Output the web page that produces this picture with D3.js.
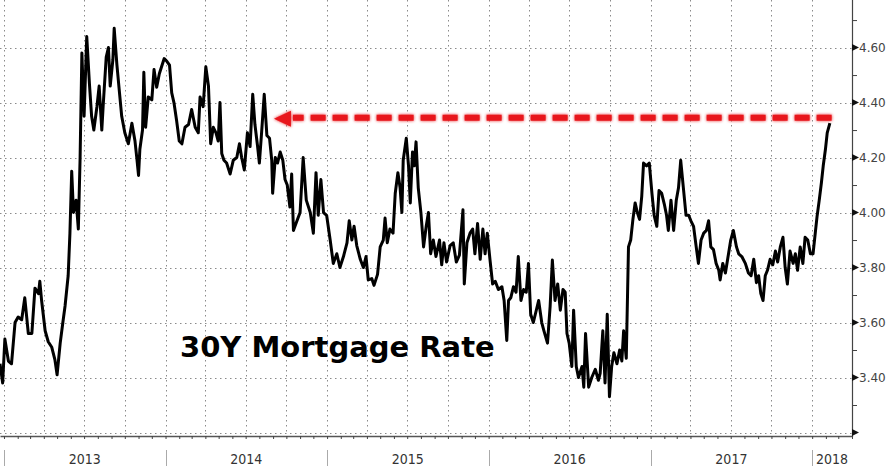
<!DOCTYPE html>
<html>
<head>
<meta charset="utf-8">
<script src="https://cdn.jsdelivr.net/npm/d3@7"></script>
<style>
  body { margin: 0; background: #fff; }
  #chart { width: 890px; height: 472px; }
</style>
</head>
<body>
<div id="chart"></div>
<script>
var width = 890
var height = 472
var plotRight = 852
var plotBottom = 432.5

// 30Y mortgage rate
var dates = ["2012-12-23","2012-12-29","2013-01-03","2013-01-11","2013-01-18","2013-01-26","2013-02-02","2013-02-10","2013-02-17","2013-02-25",
"2013-03-05","2013-03-12","2013-03-20","2013-03-23","2013-03-27","2013-04-04","2013-04-11","2013-04-19","2013-04-26","2013-05-01",
"2013-05-08","2013-05-14","2013-05-19","2013-05-26","2013-05-30","2013-06-03","2013-06-07","2013-06-13","2013-06-18","2013-06-22",
"2013-06-26","2013-07-01","2013-07-07","2013-07-13","2013-07-18","2013-07-23","2013-07-30","2013-08-04","2013-08-10","2013-08-13",
"2013-08-20","2013-08-25","2013-08-29","2013-09-04","2013-09-07","2013-09-13","2013-09-19","2013-09-24","2013-10-01","2013-10-09",
"2013-10-17","2013-10-24","2013-10-28","2013-11-01","2013-11-04","2013-11-10","2013-11-13","2013-11-17","2013-11-23","2013-12-01",
"2013-12-06","2013-12-12","2013-12-18","2013-12-23","2013-12-29","2014-01-04","2014-01-10","2014-01-15","2014-01-20","2014-01-26",
"2014-02-01","2014-02-07","2014-02-14","2014-02-22","2014-03-01","2014-03-09","2014-03-16","2014-03-20","2014-03-27","2014-04-02",
"2014-04-08","2014-04-13","2014-04-19","2014-04-25","2014-04-30","2014-05-04","2014-05-08","2014-05-13","2014-05-19","2014-05-27",
"2014-06-03","2014-06-11","2014-06-17","2014-06-22","2014-06-28","2014-07-05","2014-07-11","2014-07-17","2014-07-22","2014-07-28",
"2014-08-01","2014-08-06","2014-08-12","2014-08-18","2014-08-24","2014-08-29","2014-08-31","2014-09-06","2014-09-11","2014-09-17",
"2014-09-23","2014-09-28","2014-10-03","2014-10-09","2014-10-13","2014-10-17","2014-10-25","2014-11-01","2014-11-08","2014-11-15",
"2014-11-24","2014-12-01","2014-12-07","2014-12-12","2014-12-18","2014-12-24","2014-12-31","2015-01-08","2015-01-15","2015-01-23",
"2015-01-30","2015-02-07","2015-02-15","2015-02-20","2015-02-26","2015-03-03","2015-03-09","2015-03-17","2015-03-24","2015-03-30",
"2015-04-04","2015-04-12","2015-04-17","2015-04-25","2015-05-01","2015-05-08","2015-05-12","2015-05-17","2015-05-23","2015-05-30",
"2015-06-04","2015-06-10","2015-06-15","2015-06-19","2015-06-22","2015-06-29","2015-07-04","2015-07-08","2015-07-13","2015-07-17",
"2015-07-21","2015-07-26","2015-08-01","2015-08-07","2015-08-13","2015-08-18","2015-08-23","2015-08-29","2015-09-04","2015-09-12",
"2015-09-17","2015-09-22","2015-09-28","2015-10-06","2015-10-13","2015-10-20","2015-10-27","2015-11-04","2015-11-07","2015-11-13",
"2015-11-20","2015-11-26","2015-12-01","2015-12-07","2015-12-13","2015-12-19","2015-12-24","2015-12-29","2016-01-04","2016-01-10",
"2016-01-16","2016-01-23","2016-01-31","2016-02-05","2016-02-11","2016-02-15","2016-02-20","2016-02-26","2016-03-03","2016-03-08",
"2016-03-14","2016-03-20","2016-03-26","2016-03-31","2016-04-05","2016-04-11","2016-04-17","2016-04-23","2016-04-30","2016-05-05",
"2016-05-13","2016-05-19","2016-05-24","2016-05-30","2016-06-05","2016-06-11","2016-06-17","2016-06-22","2016-06-26","2016-07-01",
"2016-07-07","2016-07-11","2016-07-17","2016-07-22","2016-07-30","2016-08-03","2016-08-07","2016-08-14","2016-08-21","2016-08-29",
"2016-09-05","2016-09-09","2016-09-15","2016-09-20","2016-09-25","2016-09-30","2016-10-05","2016-10-10","2016-10-17","2016-10-23",
"2016-10-28","2016-11-01","2016-11-07","2016-11-12","2016-11-17","2016-11-22","2016-11-27","2016-12-02","2016-12-07","2016-12-12",
"2016-12-16","2016-12-23","2016-12-29","2017-01-04","2017-01-09","2017-01-15","2017-01-20","2017-01-26","2017-02-01","2017-02-06",
"2017-02-10","2017-02-16","2017-02-22","2017-02-28","2017-03-05","2017-03-10","2017-03-16","2017-03-22","2017-03-28","2017-04-02",
"2017-04-08","2017-04-14","2017-04-19","2017-04-25","2017-05-01","2017-05-07","2017-05-12","2017-05-17","2017-05-23","2017-05-29",
"2017-06-04","2017-06-07","2017-06-13","2017-06-19","2017-06-24","2017-07-01","2017-07-07","2017-07-14","2017-07-19","2017-07-26",
"2017-08-03","2017-08-10","2017-08-16","2017-08-22","2017-08-28","2017-09-02","2017-09-07","2017-09-12","2017-09-17","2017-09-22",
"2017-09-28","2017-10-04","2017-10-10","2017-10-15","2017-10-21","2017-10-27","2017-11-01","2017-11-06","2017-11-12","2017-11-19",
"2017-11-24","2017-11-29","2017-12-05","2017-12-11","2017-12-16","2017-12-22","2017-12-28","2018-01-03","2018-01-08","2018-01-12",
"2018-01-17","2018-01-22","2018-01-26","2018-01-31","2018-02-04","2018-02-10"]

var rates = [3.45,3.38,3.54,3.46,3.45,3.60,3.62,3.61,3.69,3.56,
3.56,3.725,3.705,3.75,3.68,3.57,3.53,3.51,3.465,3.41,
3.525,3.60,3.66,3.77,3.925,4.15,4.00,4.045,3.94,4.20,
4.58,4.35,4.64,4.47,4.35,4.30,4.385,4.46,4.30,4.385,
4.565,4.60,4.46,4.555,4.67,4.54,4.435,4.35,4.29,4.25,
4.325,4.26,4.20,4.135,4.23,4.30,4.51,4.31,4.42,4.41,
4.52,4.456,4.505,4.53,4.56,4.55,4.536,4.435,4.40,4.335,
4.26,4.25,4.31,4.32,4.375,4.31,4.29,4.42,4.385,4.53,
4.46,4.25,4.31,4.29,4.26,4.40,4.215,4.19,4.18,4.14,
4.19,4.20,4.25,4.20,4.155,4.29,4.24,4.43,4.32,4.24,
4.18,4.29,4.43,4.28,4.27,4.19,4.07,4.20,4.18,4.22,
4.19,4.12,4.10,4.02,4.14,3.935,3.97,4.00,4.20,4.045,
4.00,3.925,4.145,3.99,4.12,4.00,3.99,3.90,3.815,3.85,
3.80,3.84,3.89,3.97,3.90,3.95,3.88,3.83,3.80,3.84,
3.755,3.76,3.735,3.775,3.875,3.90,3.98,3.89,3.94,3.925,
4.07,4.145,4.09,4.00,4.19,4.27,4.17,4.035,4.22,4.17,
4.257,4.09,4.00,3.875,3.95,4.00,3.85,3.90,3.84,3.90,
3.81,3.89,3.82,3.88,3.89,3.82,3.845,4.01,3.74,3.89,
3.925,3.94,3.85,3.96,3.83,3.94,3.85,3.925,3.83,3.74,
3.75,3.72,3.73,3.68,3.535,3.68,3.69,3.73,3.71,3.84,
3.68,3.72,3.71,3.815,3.63,3.60,3.64,3.68,3.60,3.57,
3.525,3.66,3.827,3.68,3.74,3.645,3.72,3.71,3.56,3.525,
3.44,3.645,3.44,3.40,3.44,3.365,3.56,3.365,3.40,3.43,
3.39,3.415,3.57,3.38,3.63,3.33,3.44,3.49,3.45,3.50,
3.46,3.57,3.47,3.875,3.90,3.975,4.035,4.00,3.975,4.06,
4.18,4.17,4.18,4.07,3.99,3.95,4.08,4.07,4.03,3.99,
3.935,4.045,3.935,4.045,4.09,4.19,4.09,3.99,3.99,3.97,
3.95,3.875,3.815,3.90,3.925,3.935,3.97,3.875,3.865,3.815,
3.79,3.755,3.815,3.78,3.83,3.90,3.935,3.875,3.85,3.84,
3.815,3.78,3.77,3.83,3.745,3.77,3.705,3.68,3.77,3.79,
3.83,3.81,3.86,3.82,3.875,3.91,3.80,3.74,3.86,3.815,
3.85,3.79,3.875,3.815,3.91,3.90,3.85,3.85,3.925,3.985,
4.045,4.11,4.17,4.23,4.29,4.325]

var yTicks = [3.20,3.40,3.60,3.80,4.00,4.20,4.40,4.60]
var yMinorTicks = [3.30,3.50,3.70,3.90,4.10,4.30,4.50,4.70]
var years = ["2013","2014","2015","2016","2017","2018"]

// red dashed arrow: from the last print back to the 2014 level
var arrowFrom = "2018-02-14"
var arrowTo = "2014-09-03"
var arrowLevel = 4.345
var titleText = "30Y Mortgage Rate"

var parse = d3.timeParse("%Y-%m-%d")
var data = dates.map(function(d, i) { return {date: parse(d), rate: rates[i]} })

var x = d3.scaleTime().domain([parse("2012-12-23"), parse("2018-04-01")]).range([0, plotRight])
var y = d3.scaleLinear().domain([3.2, 4.773]).range([plotBottom, 0])

var svg = d3.select("#chart").append("svg")
    .attr("width", width)
    .attr("height", height)
    .style("font-family", "'DejaVu Sans', sans-serif")

var defs = svg.append("defs")
var glow = defs.append("filter").attr("id", "glow").attr("x", "-5%").attr("y", "-100%").attr("width", "110%").attr("height", "300%")
glow.append("feGaussianBlur").attr("in", "SourceGraphic").attr("stdDeviation", 1.6).attr("result", "blur")
var merge = glow.append("feMerge")
merge.append("feMergeNode").attr("in", "blur")
merge.append("feMergeNode").attr("in", "SourceGraphic")

// grid
var quarters = d3.timeMonth.every(3).range(parse("2013-01-01"), parse("2018-04-01"))
svg.append("g").selectAll("line")
    .data(quarters)
    .enter().append("line")
    .attr("x1", function(d) { return Math.round(x(d)) + 0.5 })
    .attr("x2", function(d) { return Math.round(x(d)) + 0.5 })
    .attr("y1", 0)
    .attr("y2", plotBottom)
    .attr("stroke", "#8a8a8a")
    .attr("stroke-dasharray", "1.5,3.5")

svg.append("g").selectAll("line")
    .data(yTicks)
    .enter().append("line")
    .attr("x1", 0)
    .attr("x2", plotRight)
    .attr("y1", function(d) { return Math.round(y(d)) + 0.5 })
    .attr("y2", function(d) { return Math.round(y(d)) + 0.5 })
    .attr("stroke", "#8a8a8a")
    .attr("stroke-dasharray", "1.5,3.5")

// bottom axis with monthly ticks
var xAxis = svg.append("g")
    .attr("transform", "translate(0," + 436 + ")")
    .call(d3.axisBottom(x).ticks(d3.timeMonth.every(1)).tickSize(3).tickSizeOuter(0).tickFormat(""))
xAxis.select(".domain").attr("stroke", "#555").attr("stroke-width", 1.5)
xAxis.selectAll(".tick line").attr("stroke", "#444")

// year bands
var yearStarts = years.map(function(yr) { return parse(yr + "-01-01") })
svg.append("g").selectAll("line")
    .data(yearStarts)
    .enter().append("line")
    .attr("x1", function(d) { return Math.round(x(d)) + 0.5 })
    .attr("x2", function(d) { return Math.round(x(d)) + 0.5 })
    .attr("y1", 450)
    .attr("y2", 466)
    .attr("stroke", "#aaa")

svg.append("g").selectAll("text")
    .data(yearStarts)
    .enter().append("text")
    .attr("x", function(d, i) {
        var end = i < yearStarts.length - 1 ? x(yearStarts[i + 1]) : plotRight
        return (x(d) + end) / 2
    })
    .attr("y", 464)
    .attr("text-anchor", "middle")
    .style("font-family", "'Liberation Sans Narrow', 'DejaVu Sans Condensed', sans-serif")
    .style("font-size", "14px")
    .attr("fill", "#333")
    .text(function(d, i) { return years[i] })

// right axis
svg.append("line")
    .attr("x1", plotRight + 0.5).attr("x2", plotRight + 0.5)
    .attr("y1", 0).attr("y2", 437)
    .attr("stroke", "#444").attr("stroke-width", 1.2)

var minor = svg.append("g")
    .attr("transform", "translate(" + plotRight + ",0)")
    .call(d3.axisRight(y).tickValues(yMinorTicks).tickSize(5).tickFormat(""))
minor.select(".domain").remove()
minor.selectAll(".tick line").attr("stroke", "#444")

var major = svg.append("g").selectAll("g")
    .data(yTicks)
    .enter().append("g")
    .attr("transform", function(d) { return "translate(" + plotRight + "," + y(d) + ")" })
major.append("path")
    .attr("d", "M0,-3.5L7,0L0,3.5Z")
    .attr("fill", "#111")
major.filter(function(d) { return d > 3.2 }).append("text")
    .attr("x", 7)
    .attr("dy", "0.36em")
    .style("font-size", "12px")
    .attr("fill", "#444")
    .text(function(d) { return d3.format(".2f")(d) })

// the series
var line = d3.line()
    .x(function(d) { return x(d.date) })
    .y(function(d) { return y(d.rate) })

svg.append("path")
    .datum(data)
    .attr("fill", "none")
    .attr("stroke", "#000")
    .attr("stroke-width", 3)
    .attr("stroke-linejoin", "round")
    .attr("d", line)

// annotation arrow
var ax1 = x(parse(arrowFrom))
var ax0 = x(parse(arrowTo))
var ay = y(arrowLevel)
var arrow = svg.append("g").attr("filter", "url(#glow)")
arrow.append("path")
    .attr("d", "M" + ax1 + "," + ay + "L" + (ax0 + 19) + "," + ay)
    .attr("stroke", "#e8161c")
    .attr("stroke-width", 6)
    .attr("stroke-dasharray", "15,7")
    .attr("fill", "none")
arrow.append("path")
    .attr("d", "M" + ax0 + "," + (ay + 1) + "L" + (ax0 + 17) + "," + (ay - 7) + "L" + (ax0 + 17) + "," + (ay + 9) + "Z")
    .attr("fill", "#e8161c")

svg.append("text")
    .attr("x", 180)
    .attr("y", 357)
    .style("font-size", "29px")
    .style("font-weight", "bold")
    .attr("fill", "#000")
    .text(titleText)
</script>
</body>
</html>
